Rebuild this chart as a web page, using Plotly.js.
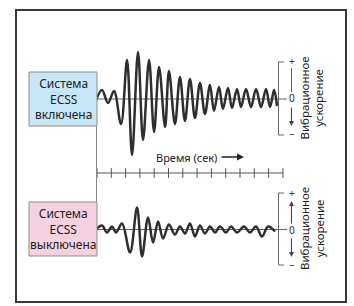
<!DOCTYPE html>
<html><head><meta charset="utf-8">
<script src="https://cdn.plot.ly/plotly-3.0.1.min.js"></script>
<style>html,body{margin:0;padding:0;background:#fff;}#chart{width:354px;height:306px;}</style>
</head><body><div id="chart"></div>
<script>
// Time axis ticks (sec, arbitrary units)
const timeTicks = [0,1,2,3,4,5,6,7,8,9,10,11,12,13];
// ECSS ON: vibration acceleration (arbitrary units)
const onTime = [-0.07,0.35,0.77,1.19,1.68,2.10,2.45,2.87,3.22,3.64,3.99,4.34,4.76,5.03,5.45,5.80,6.15,6.50,6.85,7.20,7.55,7.90,8.18,8.53,8.81,9.16,9.44,9.79,10.07,10.42,10.77,11.12,11.47,11.82,12.10,12.38,12.59];
const onAccel = [-0.1,0.9,-0.4,0.8,-2.5,3.9,-5.6,4.7,-4.1,3.9,-3.3,3.2,-2.8,2.8,-2.5,2.2,-2.2,2.0,-1.9,1.6,-1.5,1.4,-1.2,1.2,-1.0,1.1,-0.9,1.0,-0.8,1.0,-0.8,1.0,-0.8,1.0,-0.8,0.9,-0.7];
// ECSS OFF
const offTime = [-0.07,0.35,0.70,1.05,1.33,1.75,2.31,2.80,3.15,3.57,3.92,4.27,4.62,5.03,5.45,5.80,6.15,6.50,6.85,7.20,7.55,7.90,8.25,8.60,9.02,9.37,9.79,10.28,10.70,11.12,11.54,11.96,12.45];
const offAccel = [0,0.4,-0.3,0.3,-0.3,0.6,-2.3,2.2,-2.7,1.2,-1.3,0.8,-0.9,0.5,-0.5,0.3,-0.4,0.6,-0.7,0.4,-0.4,0.3,-0.3,0.3,-0.3,0.3,-0.3,0.3,-0.3,0.3,-0.7,0.3,-0.2];

const labelOn = "Система<br>ECSS<br>включена";
const labelOff = "Система<br>ECSS<br>выключена";
const axisTitle = "Время (сек)";
const accelTitle = "Вибрационное<br>ускорение";

const W = 354, H = 306;
const px = x => x / W;
const py = y => 1 - y / H;

const waveLine = {color:'#2e2e2e', width:2.5, shape:'spline', smoothing:1};
const traces = [
  {x:onTime, y:onAccel, xaxis:'x', yaxis:'y', mode:'lines', line:waveLine, hoverinfo:'skip'},
  {x:offTime, y:offAccel, xaxis:'x', yaxis:'y2', mode:'lines', line:waveLine, hoverinfo:'skip'},
  {x:timeTicks, y:timeTicks.map(()=>0), xaxis:'x', yaxis:'y3', mode:'lines+markers',
   line:{color:'#555', width:1}, marker:{symbol:'line-ns-open', size:7, line:{color:'#555', width:1}},
   hoverinfo:'skip', cliponaxis:false}
];

const gray = '#666';
const shapes = [
  {type:'rect', xref:'paper', yref:'paper', x0:px(16), x1:px(346), y0:py(10), y1:py(302), line:{color:'#3a3a3a', width:2}},
  {type:'rect', xref:'paper', yref:'paper', x0:px(29), x1:px(97), y0:py(72), y1:py(126), fillcolor:'#c7e7f6', line:{color:'#8c8c8c', width:1}},
  {type:'rect', xref:'paper', yref:'paper', x0:px(29), x1:px(97), y0:py(202), y1:py(256), fillcolor:'#f6d1df', line:{color:'#8c8c8c', width:1}},
  {type:'line', xref:'paper', yref:'paper', x0:px(96.5), x1:px(96.5), y0:py(126), y1:py(202), line:{color:'#888', width:1}},
  {type:'line', xref:'paper', yref:'y', x0:px(97), x1:px(287), y0:0, y1:0, line:{color:gray, width:1}, layer:'below'},
  {type:'line', xref:'paper', yref:'y2', x0:px(97), x1:px(287), y0:0, y1:0, line:{color:gray, width:1}, layer:'below'},
  {type:'path', xref:'paper', yref:'paper', path:`M${px(284)},${py(62)} L${px(278.5)},${py(62)} L${px(278.5)},${py(135)} L${px(284)},${py(135)}`, line:{color:gray, width:1}},
  {type:'path', xref:'paper', yref:'paper', path:`M${px(284)},${py(193)} L${px(278.5)},${py(193)} L${px(278.5)},${py(265)} L${px(284)},${py(265)}`, line:{color:gray, width:1}},
  {type:'line', xref:'paper', yref:'paper', x0:px(291.5), x1:px(291.5), y0:py(68), y1:py(92), line:{color:gray, width:1}}
];

const tf = {family:'Noto Sans, Open Sans, sans-serif', size:12, color:'#222'};
const vf = {family:'Noto Sans, Open Sans, sans-serif', size:11.5, color:'#222'};
const lf = {family:'Noto Sans, Open Sans, sans-serif', size:11, color:'#222'};
const sf = {family:'Noto Sans, Open Sans, sans-serif', size:10, color:'#333'};
const ann = (x,y,text,font,extra) => Object.assign({xref:'paper', yref:'paper', x:px(x), y:py(y), text:text, showarrow:false, font:font, xanchor:'center', yanchor:'middle'}, extra||{});
const arrow = (x,y,ax,ay) => ({xref:'paper', yref:'paper', x:px(x), y:py(y), ax:ax, ay:ay, text:'', showarrow:true, arrowhead:2, arrowsize:0.9, arrowwidth:1.1, arrowcolor:'#444'});

const annotations = [
  ann(63, 99, labelOn, tf),
  ann(63, 229, labelOff, tf),
  ann(186, 157, axisTitle, lf),
  {xref:'paper', yref:'paper', x:px(244), y:py(157), ax:-24, ay:0, text:'', showarrow:true, arrowhead:2, arrowsize:1, arrowwidth:1.4, arrowcolor:'#222'},
  ann(292, 61.5, '+', sf), ann(291.5, 98.5, '0', sf), ann(292, 133.5, '−', sf),
  ann(292, 192.5, '+', sf), ann(291.5, 229.5, '0', sf), ann(292, 264.5, '−', sf),
  ann(312, 98.5, accelTitle, vf, {textangle:-90}),
  ann(312, 229, accelTitle, vf, {textangle:-90}),
  arrow(291.5, 126, 0, -20),
  arrow(291.5, 201, 0, 24),
  arrow(291.5, 257, 0, -20)
];

const hidden = {visible:false, fixedrange:true};
const layout = {
  width:W, height:H, margin:{l:0,r:0,t:0,b:0}, paper_bgcolor:'#fff', plot_bgcolor:'rgba(0,0,0,0)',
  showlegend:false,
  xaxis:Object.assign({domain:[0,1], range:[-97/14.3, (354-97)/14.3]}, hidden),
  yaxis:Object.assign({domain:[py(159), py(39)], range:[-6,6]}, hidden),
  yaxis2:Object.assign({domain:[py(289.5), py(169.5)], range:[-6,6]}, hidden),
  yaxis3:Object.assign({domain:[py(183), py(163)], range:[-1,1]}, hidden),
  shapes:shapes, annotations:annotations
};
Plotly.newPlot('chart', traces, layout, {staticPlot:true, displayModeBar:false});
</script></body></html>
